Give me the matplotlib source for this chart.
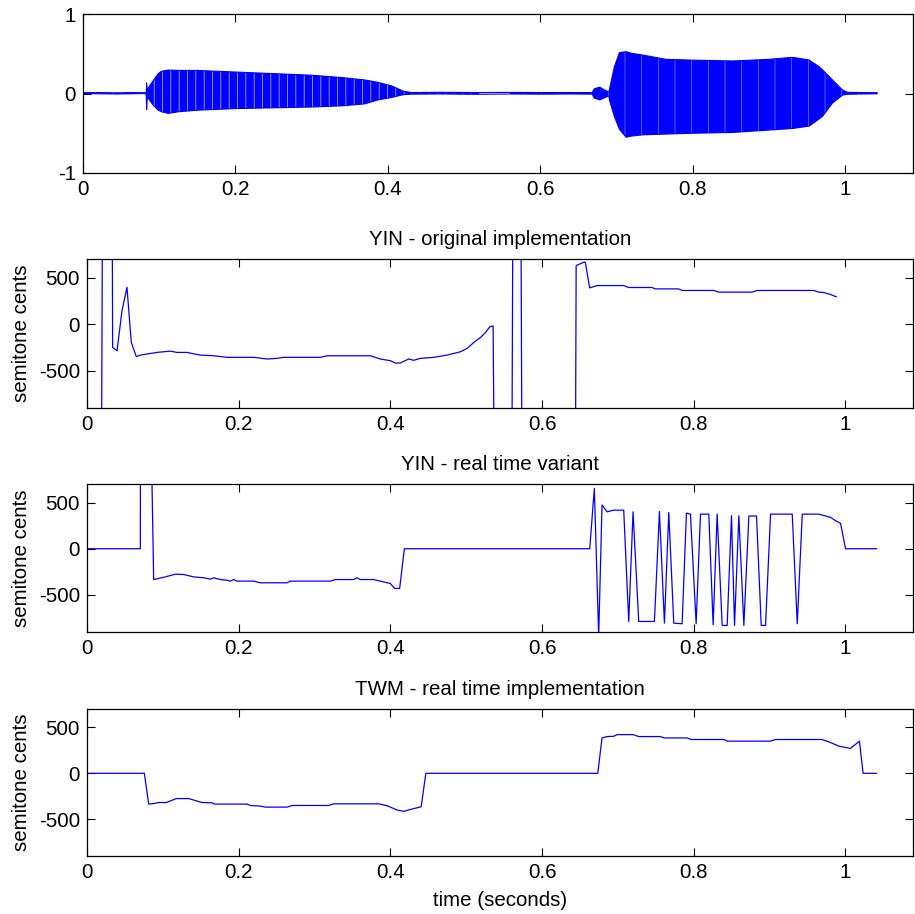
import matplotlib
matplotlib.use("Agg")
import matplotlib.pyplot as plt
import numpy as np

plt.rcParams["font.family"] = ["Liberation Sans", "DejaVu Sans"]
plt.rcParams["axes.unicode_minus"] = False
plt.rcParams["hatch.linewidth"] = 0.5

# --- waveform envelope (seconds, upper, lower) ---
wave_t = [0.000, 0.020, 0.045, 0.060, 0.080, 0.0830, 0.0835, 0.0845, 0.0856,
          0.092, 0.0987, 0.103, 0.112, 0.125, 0.150, 0.200, 0.250, 0.300,
          0.340, 0.370, 0.387, 0.405, 0.420, 0.430, 0.470, 0.520, 0.560,
          0.600, 0.640, 0.668, 0.671, 0.678, 0.685, 0.690, 0.6907, 0.6972,
          0.7038, 0.7126, 0.720, 0.7343, 0.765, 0.800, 0.8523, 0.900, 0.931,
          0.9528, 0.9659, 0.9700, 0.9834, 0.9965, 1.003, 1.020, 1.042]
wave_hi = [0.010, 0.012, 0.008, 0.012, 0.010, 0.010, 0.135, 0.020, 0.070,
           0.160, 0.250, 0.280, 0.295, 0.290, 0.290, 0.270, 0.250, 0.230,
           0.200, 0.170, 0.140, 0.095, 0.030, 0.012, 0.015, 0.012, 0.014,
           0.012, 0.012, 0.012, 0.060, 0.080, 0.040, 0.020, 0.050, 0.337,
           0.514, 0.526, 0.505, 0.484, 0.430, 0.420, 0.409, 0.430, 0.455,
           0.421, 0.337, 0.300, 0.170, 0.044, 0.015, 0.012, 0.010]
wave_lo = [0.000, -0.004, -0.006, -0.004, 0.000, -0.010, -0.200, -0.030, -0.060,
           -0.145, -0.210, -0.230, -0.250, -0.230, -0.210, -0.190, -0.180, -0.170,
           -0.155, -0.130, -0.080, -0.050, -0.015, -0.008, -0.006, -0.010, -0.006,
           -0.008, -0.006, -0.008, -0.060, -0.080, -0.050, -0.030, -0.082, -0.290,
           -0.450, -0.550, -0.535, -0.520, -0.510, -0.500, -0.490, -0.460, -0.440,
           -0.410, -0.320, -0.290, -0.120, -0.020, -0.010, -0.006, -0.004]

# time that separates the two voiced segments of the waveform
segment_split = 0.55

# --- YIN, original implementation (seconds, cents) ---
yin_t = [0.0169, 0.0227, 0.0314, 0.0338, 0.0396, 0.0461, 0.0527, 0.0584,
         0.0651, 0.0704, 0.0790, 0.0922, 0.1098, 0.1186, 0.1318, 0.1494,
         0.1670, 0.1846, 0.2197, 0.2373, 0.2505, 0.2593, 0.3076, 0.3164,
         0.3735, 0.3867, 0.3999, 0.4065, 0.4131, 0.4241, 0.4307, 0.4395,
         0.4571, 0.4747, 0.4923, 0.5011, 0.5099, 0.5187, 0.5253, 0.5310,
         0.5354, 0.5412, 0.5580, 0.5638, 0.5698, 0.5756, 0.6420, 0.6449,
         0.6549, 0.6570, 0.6627, 0.6724, 0.7076, 0.7142, 0.7449, 0.7493,
         0.7801, 0.7845, 0.8263, 0.8330, 0.8770, 0.8835, 0.9582, 0.9648,
         0.9714, 0.9802, 0.9877]
yin_c = [-6000, 6000, 6000, -250, -286, 142, 399, -197,
         -350, -333, -321, -304, -290, -304, -304, -333,
         -340, -357, -357, -375, -368, -357, -357, -340,
         -340, -375, -393, -418, -418, -375, -389, -368,
         -357, -333, -297, -261, -197, -143, -90, -29,
         -18, -6000, -6000, 6000, 6000, -6000, -6000, 632,
         668, 668, 392, 417, 417, 396, 396, 381,
         381, 364, 364, 346, 346, 364, 364, 346,
         342, 321, 296]

# --- YIN, real time variant ---
yinrt_t = [0.0000, 0.0703, 0.0712, 0.0821, 0.0879, 0.0945, 0.1033, 0.1165,
           0.1275, 0.1407, 0.1539, 0.1627, 0.1670, 0.1758, 0.1846, 0.1890,
           0.1934, 0.1978, 0.2198, 0.2285, 0.2637, 0.2681, 0.3208, 0.3274,
           0.3516, 0.3560, 0.3604, 0.3780, 0.3867, 0.3999, 0.4056, 0.4122,
           0.4184, 0.6628, 0.6689, 0.6746, 0.6790, 0.6856, 0.6944, 0.7076,
           0.7142, 0.7199, 0.7274, 0.7481, 0.7547, 0.7613, 0.7670, 0.7736,
           0.7846, 0.7903, 0.7956, 0.8031, 0.8088, 0.8198, 0.8255, 0.8308,
           0.8374, 0.8440, 0.8497, 0.8537, 0.8594, 0.8660, 0.8726, 0.8827,
           0.8889, 0.8946, 0.9012, 0.9298, 0.9364, 0.9430, 0.9650, 0.9803,
           0.9869, 0.9935, 1.0001, 1.0410]
yinrt_c = [0, 0, 6000, 2400, -333, -321, -304, -275,
           -279, -304, -314, -329, -314, -333, -340, -350,
           -333, -350, -350, -368, -368, -350, -350, -333,
           -333, -314, -333, -333, -350, -375, -429, -429,
           0, 0, 653, -950, 474, 399, 417, 417,
           -786, 399, -786, -786, 403, -804, 392, -804,
           -811, 385, 374, -811, 374, 374, -822, 374,
           -829, -829, 357, -829, 357, -829, 354, 354,
           -829, -829, 374, 374, -811, 374, 374, 339,
           303, 275, 0, 0]

# --- TWM, real time implementation ---
twm_t = [0.0000, 0.0756, 0.0813, 0.0888, 0.0945, 0.1046, 0.1178, 0.1341,
         0.1517, 0.1649, 0.1679, 0.2110, 0.2154, 0.2286, 0.2352, 0.2638,
         0.2704, 0.3187, 0.3253, 0.3847, 0.3957, 0.4090, 0.4178, 0.4265,
         0.4406, 0.4467, 0.6734, 0.6790, 0.6856, 0.6944, 0.6988, 0.7199,
         0.7274, 0.7559, 0.7612, 0.7911, 0.7964, 0.8395, 0.8447, 0.9010,
         0.9076, 0.9691, 0.9801, 0.9911, 1.0065, 1.0184, 1.0232, 1.0410]
twm_c = [0, 0, -335, -328, -318, -318, -275, -275,
         -318, -321, -335, -335, -350, -357, -368, -368,
         -350, -350, -332, -332, -353, -400, -414, -393,
         -364, 0, 0, 385, 400, 403, 421, 421,
         400, 400, 385, 385, 368, 368, 350, 350,
         368, 368, 336, 296, 271, 350, 0, 0]

x_ticks = [0, 0.2, 0.4, 0.6, 0.8, 1]
x_tick_labels = ["0", "0.2", "0.4", "0.6", "0.8", "1"]
wave_ticks = [-1, 0, 1]
cent_ticks = [-500, 0, 500]

titles = ["YIN - original implementation",
          "YIN - real time variant",
          "TWM - real time implementation"]

BLUE = "#0000ff"
FS = 14.8
W, H = 915, 914

fig = plt.figure(figsize=(W / 100, H / 100), dpi=100)


def frame(ax):
    ax.set_xlim(0, 1.089)
    ax.set_xticks(x_ticks)
    ax.set_xticklabels(x_tick_labels)
    ax.tick_params(direction="in", top=True, right=True, length=5.5,
                   width=0.8, labelsize=FS, pad=5)
    for s in ax.spines.values():
        s.set_linewidth(0.9)


def box(left, top, right, bottom):
    return [left / W, 1 - bottom / H, (right - left) / W, (bottom - top) / H]


# waveform: filled envelope, with faint gaps between single periods
ax0 = fig.add_axes(box(83, 14, 913, 173))
wt = np.asarray(wave_t)
first = wt <= segment_split
ax0.fill_between(wt, wave_lo, wave_hi, where=first, facecolor=BLUE,
                 edgecolor="#c8c8ff", hatch="||", lw=0)
ax0.fill_between(wt, wave_lo, wave_hi, where=~first, facecolor=BLUE,
                 edgecolor="#7f7fff", hatch="|", lw=0)
ax0.plot(wt, wave_hi, color=BLUE, lw=0.8)
ax0.plot(wt, wave_lo, color=BLUE, lw=0.8)
ax0.set_ylim(-1, 1)
ax0.set_yticks(wave_ticks)
ax0.set_yticklabels([str(v) for v in wave_ticks])
frame(ax0)

tracks = [(yin_t, yin_c), (yinrt_t, yinrt_c), (twm_t, twm_c)]
boxes = [(87, 259.3, 913, 407.7), (87, 484, 913, 632), (87, 709, 913, 856)]
axes = []
for (t, c), b, title in zip(tracks, boxes, titles):
    ax = fig.add_axes(box(*b))
    ax.plot(t, c, color=BLUE, lw=0.9)
    ax.set_ylim(-900, 700)
    ax.set_yticks(cent_ticks)
    ax.set_yticklabels([str(v) for v in cent_ticks])
    ax.set_title(title, fontsize=FS, pad=10)
    ax.set_ylabel("semitone cents", fontsize=FS)
    ax.yaxis.set_label_coords(-0.068, 0.5)
    frame(ax)
    axes.append(ax)

axes[-1].set_xlabel("time (seconds)", fontsize=FS)
axes[-1].xaxis.set_label_coords(0.5, -0.235)

fig.savefig("out.png", dpi=100)
